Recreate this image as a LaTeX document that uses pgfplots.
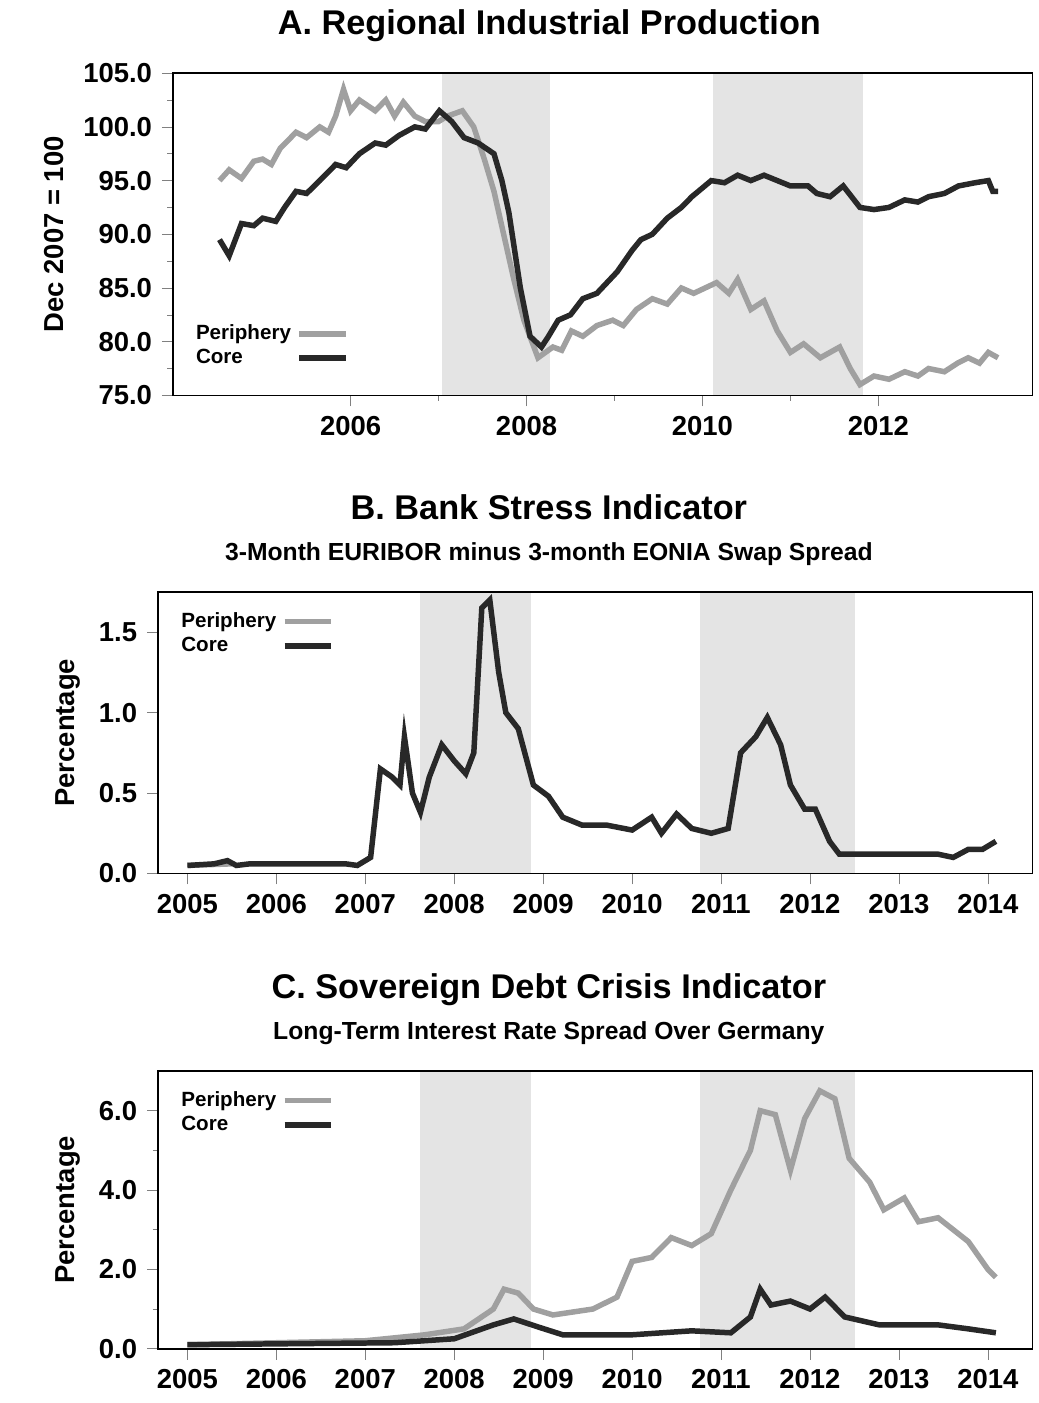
\documentclass[border=0pt]{standalone}
\usepackage{pgfplots}
\pgfplotsset{compat=1.18}
\usepackage{fontspec}
\setmainfont{Liberation Sans}
\definecolor{peri}{RGB}{160,160,160}
\definecolor{core}{RGB}{40,40,40}
\definecolor{shadecol}{RGB}{228,228,228}
\pgfplotsset{
  every axis/.append style={
    scale only axis, axis on top, tick align=outside, tick pos=left,
    /pgf/number format/assume math mode=true,
    font=\bfseries\fontsize{10}{12}\selectfont,
    tick label style={font=\bfseries\fontsize{10}{12}\selectfont},
    title style={font=\bfseries\fontsize{12.5}{14}\selectfont},
    ylabel style={font=\bfseries\fontsize{10}{12}\selectfont},
    major tick length=4pt, minor tick length=2pt,
    line width=0.6pt,
    legend plot pos=right,
    legend style={draw=none,fill=none,font=\bfseries\fontsize{7.5}{9}\selectfont,row sep=-2pt},
    legend cell align=left,
  },
  pline/.style={peri,line width=2pt},
  cline/.style={core,line width=2pt},
}
\begin{document}
\begin{tikzpicture}
\path (0,0) rectangle (378.36pt,-505.08pt);
% Panel A
\begin{axis}[at={(63pt,-137.88pt)},anchor=south west,width=313.2pt,height=117.4pt,
  xmin=2003.98,xmax=2013.75,ymin=75,ymax=105,
  xtick={2006,2008,2010,2012},minor x tick num=1,
  ytick={75,80,85,90,95,100,105},minor y tick num=1,
  yticklabel style={/pgf/number format/.cd,fixed,fixed zerofill,precision=1},
  xticklabel style={/pgf/number format/1000 sep={}},
  title={A. Regional Industrial Production},title style={at={(0.438,1)},yshift=2pt},
  ylabel={Dec 2007 = 100},
  legend style={at={(0.01,0.05)},anchor=south west}]
\fill[shadecol] (axis cs:2007.04,75) rectangle (axis cs:2008.27,105);
\fill[shadecol] (axis cs:2010.12,75) rectangle (axis cs:2011.82,105);
\addplot[pline] coordinates {(2004.51,95)(2004.62,96)(2004.76,95.2)(2004.9,96.8)(2005.00,97)(2005.1,96.5)(2005.2,98)(2005.38,99.5)(2005.5,99)(2005.65,100)(2005.75,99.5)(2005.83,101)(2005.92,103.5)(2006.0,101.5)(2006.1,102.5)(2006.28,101.5)(2006.4,102.5)(2006.5,101)(2006.6,102.3)(2006.73,101)(2006.85,100.5)(2007.00,100.5)(2007.1,101)(2007.27,101.5)(2007.4,100)(2007.52,97)(2007.63,94)(2007.74,90)(2007.85,86)(2007.97,82)(2008.13,78.5)(2008.30,79.5)(2008.4,79.2)(2008.51,81)(2008.64,80.5)(2008.8,81.5)(2008.98,82)(2009.1,81.5)(2009.25,83)(2009.43,84)(2009.6,83.5)(2009.76,85)(2009.9,84.5)(2010.16,85.5)(2010.3,84.5)(2010.4,85.8)(2010.55,83)(2010.7,83.8)(2010.85,81)(2011.00,79)(2011.15,79.8)(2011.34,78.5)(2011.45,79)(2011.56,79.5)(2011.68,77.5)(2011.79,76)(2011.95,76.8)(2012.12,76.5)(2012.3,77.2)(2012.45,76.8)(2012.57,77.5)(2012.75,77.2)(2012.9,78)(2013.02,78.5)(2013.15,78)(2013.25,79)(2013.36,78.5)};
\addplot[cline] coordinates {(2004.51,89.5)(2004.62,88)(2004.76,91)(2004.9,90.8)(2005.00,91.5)(2005.15,91.2)(2005.25,92.5)(2005.38,94)(2005.5,93.8)(2005.65,95)(2005.83,96.5)(2005.95,96.2)(2006.1,97.5)(2006.28,98.5)(2006.4,98.3)(2006.55,99.2)(2006.73,100)(2006.85,99.8)(2007.01,101.5)(2007.15,100.5)(2007.29,99)(2007.45,98.5)(2007.63,97.5)(2007.72,95)(2007.80,92)(2007.93,85)(2008.04,80.5)(2008.17,79.5)(2008.25,80.5)(2008.36,82)(2008.5,82.5)(2008.64,84)(2008.8,84.5)(2009.03,86.5)(2009.2,88.5)(2009.3,89.5)(2009.43,90)(2009.6,91.5)(2009.76,92.5)(2009.88,93.5)(2010.10,95)(2010.25,94.8)(2010.4,95.5)(2010.55,95)(2010.7,95.5)(2011.00,94.5)(2011.2,94.5)(2011.3,93.8)(2011.45,93.5)(2011.6,94.5)(2011.79,92.5)(2011.95,92.3)(2012.12,92.5)(2012.3,93.2)(2012.45,93)(2012.57,93.5)(2012.75,93.8)(2012.91,94.5)(2013.1,94.8)(2013.25,95)(2013.3,94)(2013.36,94)};
\legend{Periphery,Core}
\end{axis}
% Panel B
\begin{axis}[at={(57.6pt,-312.12pt)},anchor=south west,width=318.6pt,height=102.6pt,
  xmin=2004.67,xmax=2014.5,ymin=0,ymax=1.75,
  xtick={2005,...,2014},minor x tick num=11,
  ytick={0,0.5,1.0,1.5},
  yticklabel style={/pgf/number format/.cd,fixed,fixed zerofill,precision=1},
  xticklabel style={/pgf/number format/1000 sep={}},
  title={B. Bank Stress Indicator\\[1pt]{\fontsize{9}{11}\selectfont 3-Month EURIBOR minus 3-month EONIA Swap Spread}},
  title style={align=center,at={(0.447,1)}},
  ylabel={Percentage},
  legend style={at={(0.01,0.97)},anchor=north west}]
\fill[shadecol] (axis cs:2007.62,0) rectangle (axis cs:2008.86,1.75);
\fill[shadecol] (axis cs:2010.76,0) rectangle (axis cs:2012.51,1.75);
\addplot[pline] coordinates {(2005.0,0.05)(2005.5,0.06)};
\addplot[cline] coordinates {(2005.00,0.05)(2005.3,0.06)(2005.45,0.08)(2005.55,0.05)(2005.7,0.06)(2006.0,0.06)(2006.78,0.06)(2006.91,0.05)(2007.06,0.1)(2007.17,0.65)(2007.30,0.6)(2007.39,0.55)(2007.44,0.85)(2007.53,0.5)(2007.62,0.38)(2007.72,0.6)(2007.86,0.8)(2008.00,0.7)(2008.13,0.62)(2008.22,0.75)(2008.31,1.65)(2008.40,1.7)(2008.50,1.25)(2008.58,1.0)(2008.72,0.9)(2008.89,0.55)(2009.06,0.48)(2009.22,0.35)(2009.44,0.3)(2009.72,0.3)(2010.00,0.27)(2010.22,0.35)(2010.33,0.25)(2010.50,0.37)(2010.67,0.28)(2010.89,0.25)(2011.08,0.28)(2011.22,0.75)(2011.39,0.85)(2011.52,0.97)(2011.67,0.8)(2011.78,0.55)(2011.94,0.4)(2012.06,0.4)(2012.22,0.2)(2012.33,0.12)(2012.89,0.12)(2013.44,0.12)(2013.61,0.1)(2013.78,0.15)(2013.94,0.15)(2014.09,0.2)};
\legend{Periphery,Core}
\end{axis}
% Panel C
\begin{axis}[at={(57.6pt,-485.28pt)},anchor=south west,width=318.6pt,height=101.2pt,
  xmin=2004.67,xmax=2014.5,ymin=0,ymax=7,
  xtick={2005,...,2014},minor x tick num=11,
  ytick={0,2,4,6},minor y tick num=1,
  yticklabel style={/pgf/number format/.cd,fixed,fixed zerofill,precision=1},
  xticklabel style={/pgf/number format/1000 sep={}},
  title={C. Sovereign Debt Crisis Indicator\\[1pt]{\fontsize{9}{11}\selectfont Long-Term Interest Rate Spread Over Germany}},
  title style={align=center,at={(0.447,1)}},
  ylabel={Percentage},
  legend style={at={(0.01,0.97)},anchor=north west}]
\fill[shadecol] (axis cs:2007.62,0) rectangle (axis cs:2008.86,7);
\fill[shadecol] (axis cs:2010.76,0) rectangle (axis cs:2012.51,7);
\addplot[pline] coordinates {(2005.00,0.1)(2006.0,0.15)(2007.00,0.2)(2007.67,0.35)(2008.11,0.5)(2008.44,1.0)(2008.56,1.5)(2008.72,1.4)(2008.89,1.0)(2009.11,0.85)(2009.56,1.0)(2009.83,1.3)(2010.00,2.2)(2010.22,2.3)(2010.44,2.8)(2010.67,2.6)(2010.89,2.9)(2011.11,4.0)(2011.33,5.0)(2011.44,6.0)(2011.61,5.9)(2011.78,4.5)(2011.94,5.8)(2012.11,6.5)(2012.28,6.3)(2012.44,4.8)(2012.67,4.2)(2012.83,3.5)(2013.06,3.8)(2013.22,3.2)(2013.44,3.3)(2013.78,2.7)(2014.00,2.0)(2014.09,1.8)};
\addplot[cline] coordinates {(2005.00,0.1)(2007.33,0.15)(2008.00,0.25)(2008.44,0.6)(2008.67,0.75)(2008.94,0.55)(2009.22,0.35)(2010.00,0.35)(2010.67,0.45)(2011.11,0.4)(2011.33,0.8)(2011.44,1.5)(2011.56,1.1)(2011.78,1.2)(2012.00,1.0)(2012.17,1.3)(2012.39,0.8)(2012.78,0.6)(2013.44,0.6)(2013.78,0.5)(2014.09,0.4)};
\legend{Periphery,Core}
\end{axis}
\end{tikzpicture}
\end{document}
